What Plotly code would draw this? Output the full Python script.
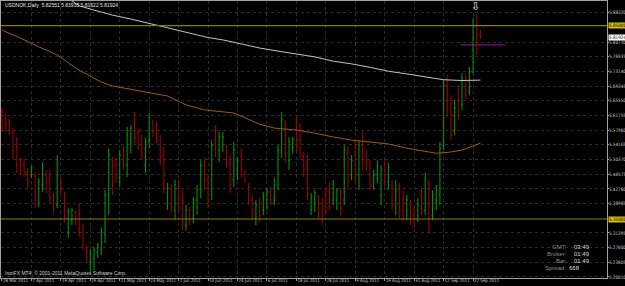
import plotly.graph_objects as go
import pandas as pd

# ---------------- data ----------------
chart_title = "USDNOK,Daily  5.82551 5.83935 5.81622 5.81924"
copyright_text = "IronFX MT4, \u00a9 2001-2011 MetaQuotes Software Corp."

dates = pd.bdate_range("2011-03-28", "2011-09-26").strftime("%Y-%m-%d").tolist()

open_ = [5.627, 5.611, 5.601, 5.575, 5.528, 5.502, 5.489, 5.471, 5.464, 5.461,
         5.399, 5.438, 5.464, 5.451, 5.407, 5.386, 5.451, 5.412, 5.316, 5.347,
         5.368, 5.360, 5.327, 5.275, 5.239, 5.249, 5.265, 5.270, 5.309, 5.412,
         5.502, 5.489, 5.456, 5.528, 5.489, 5.554, 5.601, 5.575, 5.554, 5.489,
         5.554, 5.598, 5.588, 5.554, 5.515, 5.386, 5.425, 5.373, 5.438, 5.399,
         5.334, 5.373, 5.352, 5.399, 5.425, 5.489, 5.451, 5.412, 5.554, 5.528,
         5.541, 5.533, 5.495, 5.451, 5.477, 5.515, 5.471, 5.438, 5.399, 5.352,
         5.386, 5.373, 5.399, 5.420, 5.399, 5.438, 5.528, 5.593, 5.502, 5.533,
         5.580, 5.554, 5.515, 5.477, 5.373, 5.399, 5.407, 5.368, 5.412, 5.425,
         5.399, 5.399, 5.420, 5.399, 5.528, 5.464, 5.515, 5.464, 5.541, 5.515,
         5.489, 5.438, 5.464, 5.412, 5.477, 5.446, 5.438, 5.386, 5.425, 5.399,
         5.360, 5.386, 5.360, 5.347, 5.412, 5.373, 5.438, 5.360, 5.399, 5.412,
         5.541, 5.696, 5.645, 5.580, 5.658, 5.645, 5.714, 5.683, 5.730, 5.851,
         5.82551]
high = [5.637, 5.624, 5.611, 5.585, 5.562, 5.510, 5.508, 5.482, 5.487, 5.469,
        5.456, 5.497, 5.477, 5.477, 5.417, 5.515, 5.456, 5.420, 5.378, 5.378,
        5.373, 5.391, 5.339, 5.283, 5.270, 5.277, 5.288, 5.327, 5.425, 5.533,
        5.510, 5.510, 5.528, 5.539, 5.588, 5.593, 5.627, 5.585, 5.567, 5.559,
        5.624, 5.606, 5.601, 5.567, 5.536, 5.443, 5.438, 5.451, 5.451, 5.425,
        5.386, 5.381, 5.407, 5.438, 5.502, 5.508, 5.464, 5.554, 5.593, 5.575,
        5.575, 5.541, 5.515, 5.549, 5.510, 5.533, 5.477, 5.443, 5.412, 5.399,
        5.404, 5.420, 5.430, 5.433, 5.456, 5.541, 5.627, 5.606, 5.562, 5.562,
        5.619, 5.598, 5.523, 5.515, 5.417, 5.425, 5.412, 5.404, 5.430, 5.443,
        5.451, 5.430, 5.430, 5.541, 5.536, 5.515, 5.554, 5.554, 5.575, 5.528,
        5.502, 5.477, 5.502, 5.489, 5.502, 5.495, 5.451, 5.451, 5.443, 5.425,
        5.412, 5.399, 5.386, 5.404, 5.430, 5.469, 5.451, 5.425, 5.438, 5.549,
        5.709, 5.722, 5.670, 5.658, 5.696, 5.727, 5.725, 5.743, 5.869, 5.877,
        5.83935]
low = [5.575, 5.575, 5.567, 5.505, 5.469, 5.464, 5.458, 5.430, 5.456, 5.381,
       5.381, 5.420, 5.417, 5.391, 5.365, 5.378, 5.417, 5.342, 5.301, 5.334,
       5.334, 5.303, 5.270, 5.239, 5.213, 5.218, 5.249, 5.257, 5.288, 5.360,
       5.412, 5.443, 5.433, 5.477, 5.458, 5.520, 5.546, 5.528, 5.502, 5.469,
       5.533, 5.562, 5.546, 5.489, 5.417, 5.373, 5.365, 5.347, 5.368, 5.321,
       5.321, 5.334, 5.339, 5.360, 5.404, 5.425, 5.378, 5.399, 5.510, 5.497,
       5.523, 5.482, 5.417, 5.433, 5.451, 5.456, 5.443, 5.386, 5.347, 5.334,
       5.342, 5.360, 5.373, 5.386, 5.386, 5.425, 5.508, 5.495, 5.477, 5.520,
       5.523, 5.502, 5.458, 5.399, 5.360, 5.368, 5.352, 5.334, 5.360, 5.373,
       5.386, 5.373, 5.360, 5.386, 5.425, 5.451, 5.443, 5.425, 5.477, 5.477,
       5.425, 5.425, 5.443, 5.386, 5.433, 5.425, 5.373, 5.360, 5.352, 5.342,
       5.347, 5.334, 5.327, 5.342, 5.360, 5.360, 5.316, 5.347, 5.373, 5.386,
       5.528, 5.614, 5.554, 5.567, 5.606, 5.632, 5.658, 5.670, 5.727, 5.774,
       5.81622]
close = [5.585, 5.593, 5.575, 5.523, 5.489, 5.477, 5.471, 5.446, 5.482, 5.399,
         5.446, 5.482, 5.425, 5.404, 5.373, 5.489, 5.425, 5.352, 5.368, 5.373,
         5.342, 5.316, 5.277, 5.249, 5.257, 5.270, 5.283, 5.316, 5.412, 5.515,
         5.438, 5.456, 5.515, 5.489, 5.567, 5.585, 5.559, 5.541, 5.515, 5.549,
         5.611, 5.575, 5.554, 5.508, 5.430, 5.430, 5.381, 5.438, 5.386, 5.334,
         5.373, 5.347, 5.399, 5.425, 5.489, 5.451, 5.399, 5.541, 5.528, 5.562,
         5.562, 5.495, 5.438, 5.528, 5.502, 5.477, 5.451, 5.399, 5.360, 5.386,
         5.360, 5.407, 5.420, 5.399, 5.438, 5.528, 5.606, 5.515, 5.549, 5.554,
         5.554, 5.515, 5.477, 5.412, 5.407, 5.417, 5.368, 5.347, 5.373, 5.386,
         5.438, 5.425, 5.378, 5.528, 5.464, 5.502, 5.477, 5.541, 5.502, 5.489,
         5.438, 5.464, 5.489, 5.477, 5.446, 5.482, 5.386, 5.425, 5.368, 5.360,
         5.399, 5.347, 5.334, 5.386, 5.373, 5.451, 5.334, 5.412, 5.425, 5.533,
         5.696, 5.632, 5.567, 5.637, 5.619, 5.714, 5.670, 5.730, 5.851, 5.826,
         5.81924]

# moving averages (bar index -> price)
white_ma_bars = [17, 21, 25, 30, 35, 42, 50, 56, 60, 65, 70, 75, 80, 85, 90, 95,
                 100, 105, 110, 115, 120, 125, 130]
white_ma = [5.926, 5.901, 5.890, 5.877, 5.867, 5.851, 5.833, 5.819, 5.813, 5.802,
            5.792, 5.784, 5.776, 5.769, 5.758, 5.751, 5.742, 5.732, 5.725, 5.717,
            5.710, 5.708, 5.709]
orange_ma_bars = [0, 5, 10, 15, 17, 20, 25, 27, 30, 35, 40, 42, 45, 48, 50, 55, 60,
                  63, 65, 70, 74, 80, 85, 90, 95, 100, 105, 110, 115, 118, 121, 125,
                  128, 130]
orange_ma = [5.838, 5.818, 5.795, 5.774, 5.761, 5.740, 5.714, 5.704, 5.694, 5.686,
             5.678, 5.673, 5.668, 5.655, 5.645, 5.632, 5.626, 5.624, 5.616, 5.595,
             5.585, 5.580, 5.572, 5.562, 5.554, 5.549, 5.544, 5.533, 5.526, 5.520,
             5.522, 5.528, 5.539, 5.546]

h_levels = [5.85000, 5.35000]
bid_price = 5.81924
trend_line = {"price": 5.800, "from_bar": 124.7, "to_bar": 136.7}
arrow_bar = 128.6
arrow_price = 5.899

y_ticks = [5.20010, 5.23805, 5.27600, 5.31395, 5.38985, 5.42780, 5.46575, 5.50370,
           5.54165, 5.57960, 5.61755, 5.65550, 5.69345, 5.73140, 5.76935, 5.80730,
           5.88320]
x_tick_labels = ["28 Mar 2011", "7 Apr 2011", "19 Apr 2011", "29 Apr 2011",
                 "11 May 2011", "23 May 2011", "2 Jun 2011", "14 Jun 2011",
                 "24 Jun 2011", "6 Jul 2011", "18 Jul 2011", "28 Jul 2011",
                 "9 Aug 2011", "19 Aug 2011", "31 Aug 2011", "12 Sep 2011",
                 "22 Sep 2011"]
x_tick_dates = dates[::8]

info_labels = ["GMT:", "Broker:", "Bar:", "Spread"]
info_values = ["03:49", "01:49", "01:49", "668"]

# ---------------- figure ----------------
FONT = "Liberation Sans, Arial, sans-serif"
NARROW = "Liberation Sans Narrow, DejaVu Sans Condensed, Liberation Sans, sans-serif"
fig = go.Figure()

fig.add_trace(go.Ohlc(
    x=dates, open=open_, high=high, low=low, close=close,
    increasing=dict(line=dict(color="#00a000", width=1)),
    decreasing=dict(line=dict(color="#a80000", width=1)),
    tickwidth=0.3, showlegend=False, hoverinfo="skip"))

fig.add_trace(go.Scatter(
    x=[dates[i] for i in white_ma_bars], y=white_ma, mode="lines",
    line=dict(color="#c4c4c4", width=1), showlegend=False, hoverinfo="skip"))
fig.add_trace(go.Scatter(
    x=[dates[i] for i in orange_ma_bars], y=orange_ma, mode="lines",
    line=dict(color="#9c5a1c", width=1), showlegend=False, hoverinfo="skip"))

for lvl in h_levels:
    fig.add_shape(type="line", xref="paper", x0=0, x1=1, yref="y", y0=lvl, y1=lvl,
                  line=dict(color="#8c7c08", width=1.2))

fig.add_shape(type="line", xref="x", x0=trend_line["from_bar"], x1=trend_line["to_bar"],
              yref="y", y0=trend_line["price"], y1=trend_line["price"],
              line=dict(color="#9a1a90", width=1))

annotations = []
annotations.append(dict(xref="paper", yref="paper", x=0.004, y=0.986, xanchor="left",
                        yanchor="middle", text=chart_title, showarrow=False,
                        font=dict(family=FONT, size=5, color="#e6e6e6")))
annotations.append(dict(xref="paper", yref="paper", x=0.004, y=0.018, xanchor="left",
                        yanchor="middle", text=copyright_text, showarrow=False,
                        font=dict(family=FONT, size=5, color="#d0d0d0")))
annotations.append(dict(xref="x", yref="y", x=arrow_bar, y=arrow_price, text="\u21e9",
                        showarrow=False, font=dict(family="DejaVu Sans", size=11, color="#e8e8e8")))

info_rows_y = [0.112, 0.0866, 0.0614, 0.0361]
for lab, val, yy in zip(info_labels, info_values, info_rows_y):
    right_x = 0.9373 if lab != "Spread" else 0.9323
    left_x = 0.9422 if lab != "Spread" else 0.9340
    annotations.append(dict(xref="paper", yref="paper", x=right_x, y=yy, xanchor="right",
                            yanchor="middle", text=lab, showarrow=False,
                            font=dict(family=FONT, size=6, color="#8c8c8c")))
    annotations.append(dict(xref="paper", yref="paper", x=left_x, y=yy, xanchor="left",
                            yanchor="middle", text=val, showarrow=False,
                            font=dict(family=FONT, size=6, color="#dcdcdc")))

for lvl in h_levels:
    annotations.append(dict(xref="paper", yref="y", x=1.0, y=lvl, xanchor="left",
                            yanchor="middle", xshift=1, text=f"{lvl:.5f}", showarrow=False,
                            bgcolor="#d8c000", borderpad=0,
                            font=dict(family=NARROW, size=4.6, color="#000000")))
annotations.append(dict(xref="paper", yref="y", x=1.0, y=bid_price, xanchor="left",
                        yanchor="middle", xshift=1, text=f"{bid_price:.5f}", showarrow=False,
                        bgcolor="#ffffff", borderpad=0,
                        font=dict(family=NARROW, size=4.6, color="#000000")))

fig.update_layout(
    width=625, height=286,
    margin=dict(l=1, r=18, t=1, b=8, pad=0),
    paper_bgcolor="#000000", plot_bgcolor="#000000",
    showlegend=False,
    annotations=annotations,
    xaxis=dict(
        type="category", range=[-0.27, 164.4], rangeslider=dict(visible=False),
        tickmode="array", tickvals=x_tick_dates, ticktext=x_tick_labels,
        ticklabelposition="outside right", tickangle=0, ticklabelstandoff=-2,
        tickfont=dict(family=NARROW, size=4.4, color="#c8c8c8"),
        ticks="outside", ticklen=2, tickcolor="#a0a0a0",
        showgrid=True, gridcolor="#2c2c2c", griddash="dot", gridwidth=1,
        showline=True, mirror=True, linecolor="#a0a0a0", linewidth=1,
        zeroline=False, automargin=False, fixedrange=True),
    yaxis=dict(
        side="right", range=[5.1975, 5.9135],
        tickmode="array", tickvals=y_ticks, ticktext=[f"{v:.5f}" for v in y_ticks],
        tickfont=dict(family=NARROW, size=4.6, color="#c8c8c8"),
        ticks="outside", ticklen=1, tickcolor="#a0a0a0", ticklabelstandoff=-1,
        showgrid=True, gridcolor="#2c2c2c", griddash="dot", gridwidth=1,
        showline=True, mirror=True, linecolor="#a0a0a0", linewidth=1,
        zeroline=False, automargin=False, fixedrange=True),
)

fig.write_html("out.html", config={"displayModeBar": False})
